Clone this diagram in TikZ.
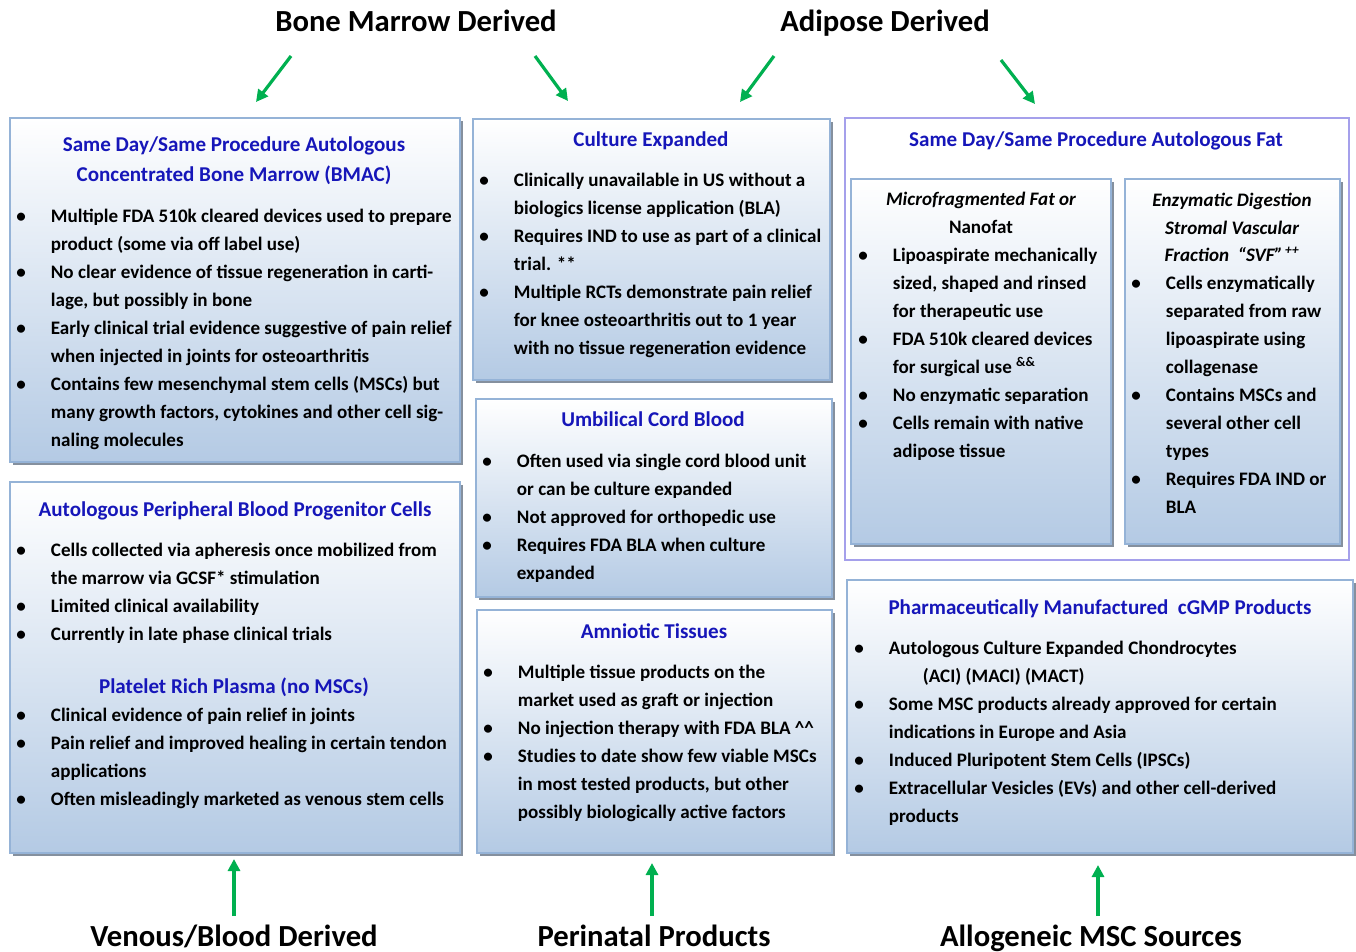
\documentclass[tikz,border=0pt]{standalone}
\usepackage{fontspec}
\setmainfont{Carlito}
\usetikzlibrary{arrows.meta,shadows,fit}

\definecolor{hblue}{RGB}{22,22,185}
\definecolor{agreen}{RGB}{0,176,80}
\definecolor{boxline}{RGB}{149,179,215}
\definecolor{boxbot}{RGB}{180,202,228}
\definecolor{fatline}{RGB}{165,160,235}
\definecolor{shadowgray}{RGB}{120,132,148}

% one bullet row and one continuation row of a list
\newcommand\bitem[1]{\textbullet & #1\\}
\newcommand\cont[1]{& #1\\}
\newenvironment{blist}{\begin{tabular}[t]{@{}p{26pt}@{}l@{}}}{\end{tabular}}

\tikzset{
  x=0.75pt, y=-0.75pt,
  panel/.style={draw=boxline, line width=0.8pt, top color=white, bottom color=boxbot,
    inner sep=0pt,
    drop shadow={shadow xshift=2.3pt, shadow yshift=-2.3pt, fill=shadowgray, opacity=0.9}},
  outerpanel/.style={draw=fatline, line width=0.9pt, fill=white, inner sep=0pt},
  head/.style={text=hblue, font=\fontsize{15.8}{19}\selectfont\bfseries, anchor=base, inner sep=0pt},
  subhead/.style={font=\fontsize{14.3}{21}\selectfont\bfseries, anchor=base, inner sep=0pt},
  body/.style={font=\fontsize{14.3}{21}\selectfont\bfseries, anchor=base west, inner sep=0pt},
  title/.style={font=\fontsize{23}{27}\selectfont\bfseries, anchor=base, inner sep=0pt},
  garrow/.style={draw=agreen, line width=2.4pt, -{Triangle[length=9pt,width=9pt]}},
}

\begin{document}
\begin{tikzpicture}
\useasboundingbox (0,0) rectangle (1356,951);

% ---------- panels ----------
\node[panel, fit={(10,118) (460,462)}] (bmac) {};
\node[panel, fit={(473,119) (830,380)}] (culture) {};
\node[outerpanel, fit={(845,118) (1349,560)}] (fat) {};
\node[panel, fit={(851,179) (1111,544)}] (nanofat) {};
\node[panel, fit={(1125,179) (1340,544)}] (svf) {};
\node[panel, fit={(10,482) (460,853)}] (pbpc) {};
\node[panel, fit={(476,399) (832,597)}] (cord) {};
\node[panel, fit={(477,610) (832,853)}] (amnio) {};
\node[panel, fit={(847,580) (1353,853)}] (pharma) {};

% ---------- source labels ----------
\node[title] (tbone) at (416,31) {Bone Marrow Derived};
\node[title] (tadip) at (885,31) {Adipose Derived};
\node[title] (tven) at (234,946) {Venous/Blood Derived};
\node[title] (tperi) at (654,946) {Perinatal Products};
\node[title] (tallo) at (1091,946) {Allogeneic MSC Sources};

% ---------- arrows ----------
\coordinate (a1s) at (291,56);   \coordinate (a1e) at (256,102);
\coordinate (a2s) at (535,56);   \coordinate (a2e) at (568,101);
\coordinate (a3s) at (774,56);   \coordinate (a3e) at (740,102);
\coordinate (a4s) at (1001,60);  \coordinate (a4e) at (1035,104);
\coordinate (b1s) at (234,916);  \coordinate (b1e) at (234,859);
\coordinate (b2s) at (652,916);  \coordinate (b2e) at (652,863);
\coordinate (b3s) at (1098,916); \coordinate (b3e) at (1098,865);
\draw[garrow] (a1s) -- (a1e);
\draw[garrow] (a2s) -- (a2e);
\draw[garrow] (a3s) -- (a3e);
\draw[garrow] (a4s) -- (a4e);
\draw[garrow] (b1s) -- (b1e);
\draw[garrow] (b2s) -- (b2e);
\draw[garrow] (b3s) -- (b3e);

% ---------- BMAC ----------
\node[head] (hbmac1) at (234,151) {Same Day/Same Procedure Autologous};
\node[head] (hbmac2) at (234,181) {Concentrated Bone Marrow (BMAC)};
\node[body] (lbmac) at (16,222) {\begin{blist}
\bitem{Multiple FDA 510k cleared devices used to prepare}
\cont{product (some via off label use)}
\bitem{No clear evidence of tissue regeneration in carti-}
\cont{lage, but possibly in bone}
\bitem{Early clinical trial evidence suggestive of pain relief}
\cont{when injected in joints for osteoarthritis}
\bitem{Contains few mesenchymal stem cells (MSCs) but}
\cont{many growth factors, cytokines and other cell sig-}
\cont{naling molecules}
\end{blist}};

% ---------- Culture expanded ----------
\node[head] (hcult) at (651,146) {Culture Expanded};
\node[body] (lcult) at (479,186) {\begin{blist}
\bitem{Clinically unavailable in US without a}
\cont{biologics license application (BLA)}
\bitem{Requires IND to use as part of a clinical}
\cont{trial. **}
\bitem{Multiple RCTs demonstrate pain relief}
\cont{for knee osteoarthritis out to 1 year}
\cont{with no tissue regeneration evidence}
\end{blist}};

% ---------- Autologous fat ----------
\node[head] (hfat) at (1096,146) {Same Day/Same Procedure Autologous Fat};
\node[subhead] (hnano1) at (981,205) {\itshape Microfragmented Fat or};
\node[subhead] (hnano2) at (981,233) {Nanofat};
\node[body] (lnano) at (858,261) {\begin{blist}
\bitem{Lipoaspirate mechanically}
\cont{sized, shaped and rinsed}
\cont{for therapeutic use}
\bitem{FDA 510k cleared devices}
\cont{for surgical use \textsuperscript{\&\&}}
\bitem{No enzymatic separation}
\bitem{Cells remain with native}
\cont{adipose tissue}
\end{blist}};
\node[subhead] (hsvf1) at (1232,206) {\itshape Enzymatic Digestion};
\node[subhead] (hsvf2) at (1232,234) {\itshape Stromal Vascular};
\node[subhead] (hsvf3) at (1232,261) {\itshape Fraction\ \ “SVF”\textsuperscript{\,++}};
\node[body] (lsvf) at (1131,289) {\begin{blist}
\bitem{Cells enzymatically}
\cont{separated from raw}
\cont{lipoaspirate using}
\cont{collagenase}
\bitem{Contains MSCs and}
\cont{several other cell}
\cont{types}
\bitem{Requires FDA IND or}
\cont{BLA}
\end{blist}};

% ---------- Peripheral blood / PRP ----------
\node[head] (hpbpc) at (235,516) {Autologous Peripheral Blood Progenitor Cells};
\node[body] (lpbpc) at (16,556) {\begin{blist}
\bitem{Cells collected via apheresis once mobilized from}
\cont{the marrow via GCSF* stimulation}
\bitem{Limited clinical availability}
\bitem{Currently in late phase clinical trials}
\end{blist}};
\node[head] (hprp) at (234,693) {Platelet Rich Plasma (no MSCs)};
\node[body] (lprp) at (16,721) {\begin{blist}
\bitem{Clinical evidence of pain relief in joints}
\bitem{Pain relief and improved healing in certain tendon}
\cont{applications}
\bitem{Often misleadingly marketed as venous stem cells}
\end{blist}};

% ---------- Umbilical cord blood ----------
\node[head] (hcord) at (653,426) {Umbilical Cord Blood};
\node[body] (lcord) at (482,467) {\begin{blist}
\bitem{Often used via single cord blood unit}
\cont{or can be culture expanded}
\bitem{Not approved for orthopedic use}
\bitem{Requires FDA BLA when culture}
\cont{expanded}
\end{blist}};

% ---------- Amniotic tissues ----------
\node[head] (hamnio) at (654,638) {Amniotic Tissues};
\node[body] (lamnio) at (483,678) {\begin{blist}
\bitem{Multiple tissue products on the}
\cont{market used as graft or injection}
\bitem{No injection therapy with FDA BLA \^{}\^{}}
\bitem{Studies to date show few viable MSCs}
\cont{in most tested products, but other}
\cont{possibly biologically active factors}
\end{blist}};

% ---------- Pharmaceutical products ----------
\node[head] (hpharma) at (1100,614) {Pharmaceutically Manufactured\ \ cGMP Products};
\node[body] (lpharma) at (854,654) {\begin{blist}
\bitem{Autologous Culture Expanded Chondrocytes}
\cont{\hspace*{25.5pt}(ACI) (MACI) (MACT)}
\bitem{Some MSC products already approved for certain}
\cont{indications in Europe and Asia}
\bitem{Induced Pluripotent Stem Cells (IPSCs)}
\bitem{Extracellular Vesicles (EVs) and other cell-derived}
\cont{products}
\end{blist}};
\end{tikzpicture}
\end{document}
